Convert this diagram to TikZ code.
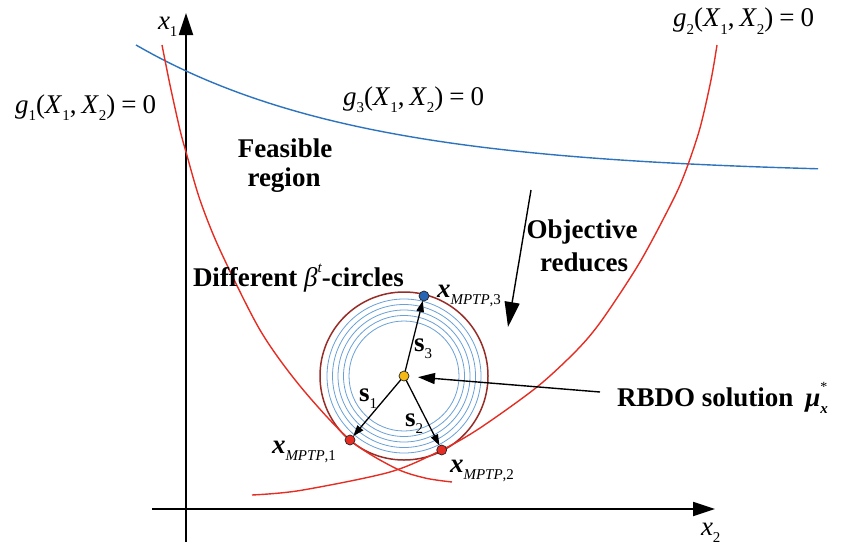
\documentclass[tikz,border=0pt]{standalone}
\usepackage{fontspec}
\setmainfont{Liberation Serif}
\usetikzlibrary{arrows.meta}
\definecolor{cred}{RGB}{230,45,35}
\definecolor{cblue}{RGB}{45,115,190}
\definecolor{cbrown}{RGB}{150,45,40}
\definecolor{clblue}{RGB}{105,160,215}
\definecolor{cyel}{RGB}{245,185,20}
\definecolor{cdotblue}{RGB}{40,100,180}
\newcommand\lo[1]{\raisebox{-0.28em}{\fontsize{15}{15}\selectfont #1}}
\newcommand\hi[1]{\raisebox{0.5em}{\fontsize{15}{15}\selectfont #1}}
\newcommand\glab[1]{\textit{g}\lo{#1}(\textit{X}\lo{1},\kern5pt\textit{X}\lo{2})\kern6pt=\kern6pt0}
\newcommand\xm[1]{\textbf{\textit{x}}\lo{\textit{MPTP},#1}}
\begin{document}
\begin{tikzpicture}[x=1pt,y=-1pt,
  every node/.style={inner sep=0pt, outer sep=0pt, font=\fontsize{27}{30}\selectfont},
  axisline/.style={line width=1.8pt, -{Triangle[length=22pt,width=14pt]}},
  redcurve/.style={cred, line width=1.4pt},
  bluecurve/.style={cblue, line width=1.4pt},
  sarrow/.style={line width=1.3pt, -{Triangle[length=11pt,width=7.5pt]}},
  bigarrow/.style={line width=1.4pt, -{Triangle[length=17pt,width=11pt]}},
  objarrow/.style={line width=1.4pt, -{Triangle[length=25pt,width=15pt]}},
  dot/.style={circle, draw=black!85, line width=0.7pt, minimum size=10pt, inner sep=0pt},
  boldlab/.style={font=\fontsize{27}{30}\selectfont\bfseries}]
\useasboundingbox (0,0) rectangle (848,546);
% axes
\coordinate (yb) at (186,542);
\coordinate (yt) at (186,13);
\coordinate (xl) at (152,509);
\coordinate (xr) at (715,509);
\draw[axisline] (yb) -- (yt);
\draw[axisline] (xl) -- (xr);
\node[anchor=base west] (x1lab) at (158,29) {\textit{x}\lo{1}};
\node[anchor=base west] (x2lab) at (701,535) {\textit{x}\lo{2}};
% g3 curve
\draw[bluecurve] plot[domain=136:818, samples=80] (\x, {175-130*exp(-0.00446*(\x-136))});
% circles
\coordinate (c0) at (404,376);
\foreach \r in {55,60.5,66,71.5,77}{
  \draw[clblue, line width=0.8pt] (c0) circle[radius=\r pt];
}
\draw[cbrown, line width=1.5pt] (c0) circle[radius=84pt];
% g1 curve
\draw[redcurve] plot[smooth] coordinates {(162,45) (170,85) (180,130) (186,152) (200,200) (220,250) (260,330) (300,386) (350,440) (395,468) (425,478) (452,482)};
% g2 curve
\draw[redcurve] plot[smooth] coordinates {(717,45) (711,80) (700,128) (686,170) (673,200) (640,262) (602,320) (577,350) (537,387) (480,428) (441.7,450) (390,472) (300,490.5) (252,495)};
% dots
\node[dot, fill=cyel] (c) at (c0) {};
\node[dot, fill=cred] (m1) at (350,440) {};
\node[dot, fill=cred] (m2) at (441.7,450) {};
\node[dot, fill=cdotblue] (m3) at (424,296) {};
% s arrows
\draw[sarrow] (c) -- (m1);
\draw[sarrow] (c) -- (m2);
\draw[sarrow] (c) -- (m3);
\node[anchor=base west] (s1) at (359,401) {\textbf{s}\lo{1}};
\node[anchor=base west] (s2) at (405,426) {\textbf{s}\lo{2}};
\node[anchor=base west] (s3) at (414,351) {\textbf{s}\lo{3}};
% labels
\node[anchor=base west] (g1) at (15,113) {\glab{1}};
\node[anchor=base west] (g2) at (673,27) {\glab{2}};
\node[anchor=base west] (g3) at (343,105) {\glab{3}};
\node[boldlab, anchor=base] (feas1) at (285,157) {Feasible};
\node[boldlab, anchor=base] (feas2) at (284,186) {region};
\node[boldlab, anchor=base] (obj1) at (582,238) {Objective};
\node[boldlab, anchor=base] (obj2) at (584,271) {reduces};
\node[boldlab, anchor=base west] (diff) at (193,286) {Different {\mdseries\itshape β}\hi{\mdseries\itshape t}-circles};
\node[anchor=base west] (xm3) at (437,297) {\xm{3}};
\node[anchor=base west] (xm1) at (272,453) {\xm{1}};
\node[anchor=base west] (xm2) at (450,472) {\xm{2}};
\node[boldlab, anchor=base west] (rbdo) at (617,406) {RBDO solution\kern12pt\textit{μ}\makebox[0pt][l]{\raisebox{0.55em}{\fontsize{14}{14}\selectfont\mdseries *}}\lo{\bfseries\itshape x}};
% arrows
\coordinate (objA) at (531,190);
\coordinate (objB) at (508,327);
\draw[objarrow] (objA) -- (objB);
\coordinate (rbdoA) at (600,392);
\draw[bigarrow, shorten >=9pt] (rbdoA) -- (c);
\end{tikzpicture}
\end{document}
